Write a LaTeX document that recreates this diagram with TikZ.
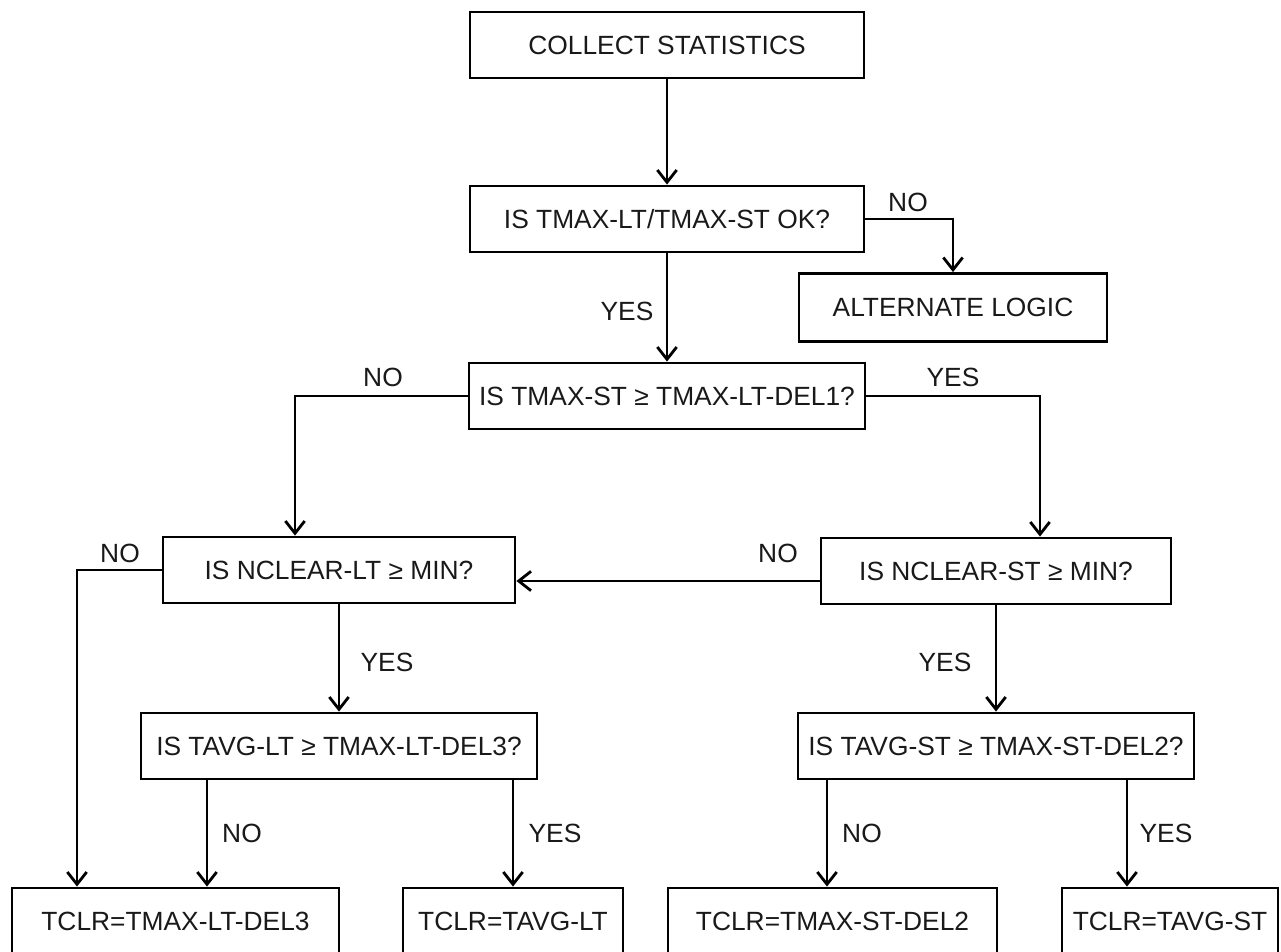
\documentclass[tikz,border=0pt]{standalone}
\usepackage{fontspec}
\setmainfont{Liberation Sans}
\usetikzlibrary{arrows.meta}
\begin{document}
\begin{tikzpicture}[x=0.02cm,y=-0.02cm,
  box/.style={draw, line width=1.6pt, inner sep=0pt, minimum height=66*0.02cm,
    font=\fontsize{15}{18}\selectfont, text=black!90},
  lbl/.style={font=\fontsize{15}{18}\selectfont, text=black!90, inner sep=0pt},
  arr/.style={line width=1.6pt, -{Straight Barb[length=7pt,width=11pt,line width=1.6pt]}},
  ln/.style={line width=1.6pt}]
\useasboundingbox (0,0) rectangle (1281,952);
\clip (0,0) rectangle (1281,952);
% boxes
\node[box, minimum width=394*0.02cm] (collect) at (667,45) {COLLECT STATISTICS};
\node[box, minimum width=394*0.02cm] (ok) at (667,219) {IS TMAX-LT/TMAX-ST OK?};
\node[box, minimum width=308*0.02cm, minimum height=68*0.02cm] (alt) at (953,307.5) {ALTERNATE LOGIC};
\node[box, minimum width=396*0.02cm] (del1) at (667,396) {IS TMAX-ST ≥ TMAX-LT-DEL1?};
\node[box, minimum width=352*0.02cm] (ncLT) at (339,570) {IS NCLEAR-LT ≥ MIN?};
\node[box, minimum width=350*0.02cm] (ncST) at (996,571) {IS NCLEAR-ST ≥ MIN?};
\node[box, minimum width=396*0.02cm] (tavLT) at (339,746) {IS TAVG-LT ≥ TMAX-LT-DEL3?};
\node[box, minimum width=396*0.02cm] (tavST) at (996,746) {IS TAVG-ST ≥ TMAX-ST-DEL2?};
\node[box, minimum width=327*0.02cm] (b1) at (175.5,921) {TCLR=TMAX-LT-DEL3};
\node[box, minimum width=220*0.02cm] (b2) at (513,921) {TCLR=TAVG-LT};
\node[box, minimum width=329*0.02cm] (b3) at (832.5,921) {TCLR=TMAX-ST-DEL2};
\node[box, minimum width=216*0.02cm] (b4) at (1170,921) {TCLR=TAVG-ST};
% helper coordinates
\coordinate (k1) at (295,0);
\coordinate (k2) at (1040,0);
\coordinate (k5) at (0,581);
\coordinate (k6) at (77,0);
\coordinate (k7) at (207,0);
\coordinate (k8) at (827,0);
\coordinate (k9) at (1127,0);
% connectors
\draw[arr] (collect.south) -- (ok.north);
\draw[arr] (ok.east) -| (alt.north);
\draw[arr] (ok.south) -- (del1.north);
\draw[arr] (del1.west) -| (k1 |- ncLT.north);
\draw[arr] (del1.east) -| (k2 |- ncST.north);
\draw[arr] (ncST.west |- k5) -- (ncLT.east |- k5);
\draw[arr] (ncLT.west) -| (k6 |- b1.north);
\draw[arr] (ncLT.south) -- (tavLT.north);
\draw[arr] (ncST.south) -- (tavST.north);
\draw[arr] (k7 |- tavLT.south) -- (k7 |- b1.north);
\draw[arr] (b2.north |- tavLT.south) -- (b2.north);
\draw[arr] (k8 |- tavST.south) -- (k8 |- b3.north);
\draw[arr] (k9 |- tavST.south) -- (k9 |- b4.north);
% labels
\node[lbl] (l1) at (908,202) {NO};
\node[lbl] (l2) at (627,311) {YES};
\node[lbl] (l3) at (383,377) {NO};
\node[lbl] (l4) at (953,377) {YES};
\node[lbl] (l5) at (120,553) {NO};
\node[lbl] (l6) at (778,553) {NO};
\node[lbl] (l7) at (387,662) {YES};
\node[lbl] (l8) at (945,662) {YES};
\node[lbl] (l9) at (242,833) {NO};
\node[lbl] (l10) at (555,833) {YES};
\node[lbl] (l11) at (862,833) {NO};
\node[lbl] (l12) at (1166,833) {YES};
\end{tikzpicture}
\end{document}
